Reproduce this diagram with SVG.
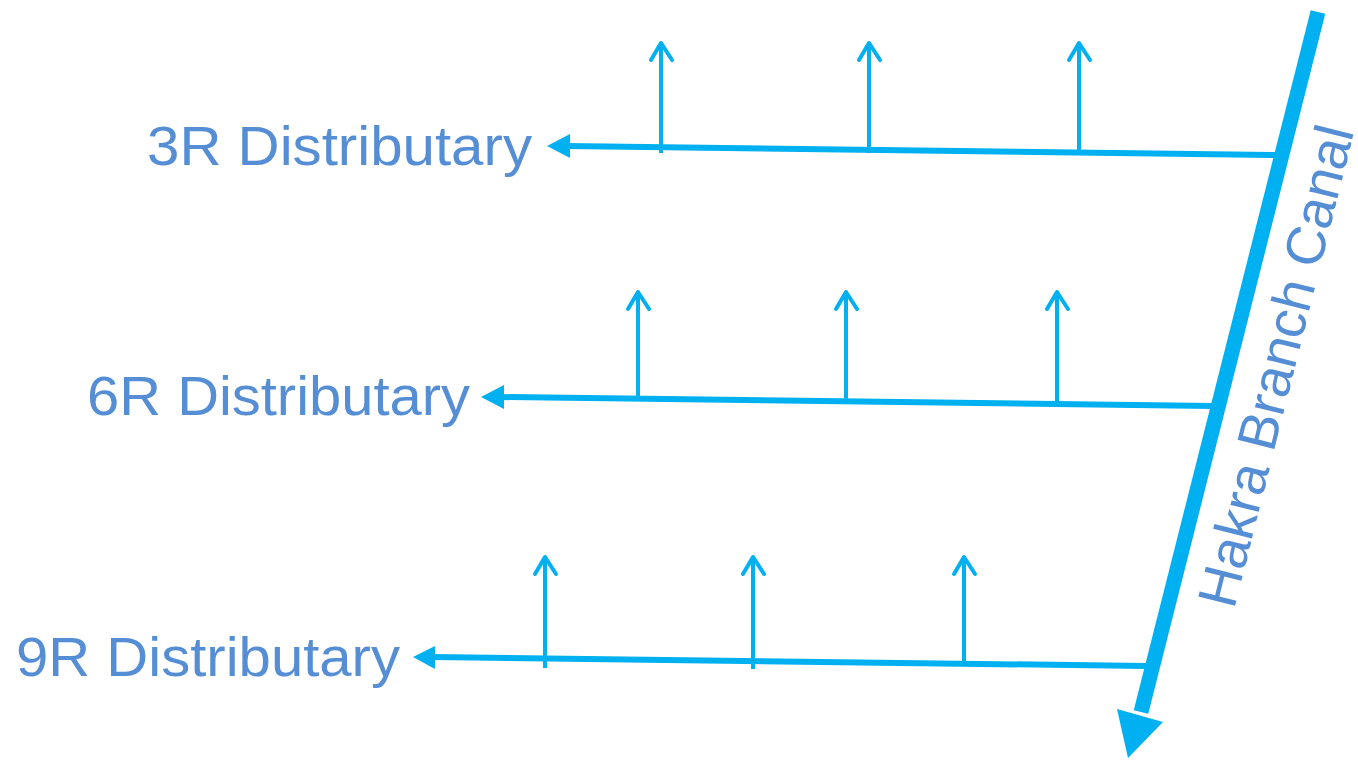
<svg xmlns="http://www.w3.org/2000/svg" width="1358" height="760" viewBox="0 0 1358 760">
<style>
.lbl{font-family:"Liberation Sans",Arial,sans-serif;font-size:56px;fill:#558ED5}
.dist{stroke:#00B0F0;stroke-width:6;fill:none}
.out{stroke:#00B0F0;stroke-width:4;fill:none}
.chev{stroke:#00B0F0;stroke-width:4;fill:none;stroke-linecap:round;stroke-linejoin:round}
.head{fill:#00B0F0}
</style>
<rect width="1358" height="760" fill="#ffffff"/>
<g id="canal">
<line x1="1318" y1="12" x2="1141" y2="712" stroke="#00B0F0" stroke-width="15"/>
<polygon class="head" points="1117,709 1163,722 1128,758"/>
<text class="lbl" transform="translate(1234,610) rotate(-75.9)" textLength="494" lengthAdjust="spacingAndGlyphs" style="font-size:55px">Hakra Branch Canal</text>
</g>
<g id="d3R">
<line class="dist" x1="1276" y1="155" x2="566" y2="146"/>
<polygon class="head" points="547,146 570,134 570,158"/>
<text class="lbl" x="532" y="165" text-anchor="end" textLength="385" lengthAdjust="spacingAndGlyphs">3R Distributary</text>
</g>
<g id="d6R">
<line class="dist" x1="1213" y1="406" x2="500" y2="397"/>
<polygon class="head" points="481,397 504,385 504,409"/>
<text class="lbl" x="470" y="415" text-anchor="end" textLength="383" lengthAdjust="spacingAndGlyphs">6R Distributary</text>
</g>
<g id="d9R">
<line class="dist" x1="1146" y1="666" x2="432" y2="657"/>
<polygon class="head" points="413,657 435,646 435,669"/>
<text class="lbl" x="400" y="676" text-anchor="end" textLength="384" lengthAdjust="spacingAndGlyphs">9R Distributary</text>
</g>
<g id="connectors">
<line class="out" x1="661" y1="153" x2="661" y2="44"/>
<polyline class="chev" points="651,60 661,43 672,60"/>
<line class="out" x1="869" y1="153" x2="869" y2="44"/>
<polyline class="chev" points="859,60 869,43 880,60"/>
<line class="out" x1="1079" y1="155" x2="1079" y2="44"/>
<polyline class="chev" points="1069,60 1079,43 1090,60"/>
<line class="out" x1="638" y1="401" x2="638" y2="293"/>
<polyline class="chev" points="628,309 638,292 649,309"/>
<line class="out" x1="846" y1="403" x2="846" y2="293"/>
<polyline class="chev" points="836,309 846,292 857,309"/>
<line class="out" x1="1057" y1="405" x2="1057" y2="293"/>
<polyline class="chev" points="1047,309 1057,292 1068,309"/>
<line class="out" x1="545" y1="668" x2="545" y2="558"/>
<polyline class="chev" points="535,574 545,557 556,574"/>
<line class="out" x1="753" y1="669" x2="753" y2="558"/>
<polyline class="chev" points="743,574 753,557 764,574"/>
<line class="out" x1="964" y1="664" x2="964" y2="558"/>
<polyline class="chev" points="954,574 964,557 975,574"/>
</g>
</svg>
